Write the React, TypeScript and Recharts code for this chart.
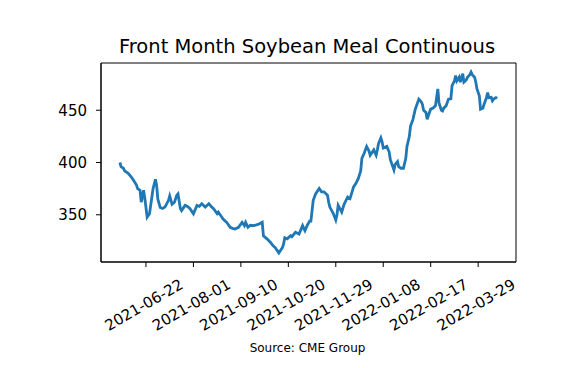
import React from "react";
import { LineChart, Line, XAxis, YAxis, ReferenceArea } from "recharts";

const dates = [
  "2021-05-31", "2021-06-01", "2021-06-03", "2021-06-04", "2021-06-07", "2021-06-09",
  "2021-06-11", "2021-06-14", "2021-06-15", "2021-06-17", "2021-06-18", "2021-06-20",
  "2021-06-21", "2021-06-23", "2021-06-25", "2021-06-28", "2021-06-30", "2021-07-01",
  "2021-07-02", "2021-07-04", "2021-07-06", "2021-07-08", "2021-07-11", "2021-07-12",
  "2021-07-14", "2021-07-16", "2021-07-18", "2021-07-19", "2021-07-21", "2021-07-22",
  "2021-07-25", "2021-07-27", "2021-07-29", "2021-08-01", "2021-08-04", "2021-08-06",
  "2021-08-08", "2021-08-11", "2021-08-14", "2021-08-16", "2021-08-18", "2021-08-21",
  "2021-08-22", "2021-08-25", "2021-08-26", "2021-08-29", "2021-09-01", "2021-09-03",
  "2021-09-05", "2021-09-08", "2021-09-11", "2021-09-13", "2021-09-14", "2021-09-16",
  "2021-09-18", "2021-09-21", "2021-09-25", "2021-09-28", "2021-09-29", "2021-10-02",
  "2021-10-05", "2021-10-07", "2021-10-09", "2021-10-12", "2021-10-15", "2021-10-16",
  "2021-10-17", "2021-10-19", "2021-10-22", "2021-10-23", "2021-10-26", "2021-10-29",
  "2021-11-01", "2021-11-02", "2021-11-03", "2021-11-05", "2021-11-07", "2021-11-08",
  "2021-11-10", "2021-11-12", "2021-11-15", "2021-11-17", "2021-11-19", "2021-11-22",
  "2021-11-23", "2021-11-24", "2021-11-27", "2021-11-29", "2021-11-30", "2021-12-01",
  "2021-12-04", "2021-12-06", "2021-12-09", "2021-12-11", "2021-12-14", "2021-12-16",
  "2021-12-18", "2021-12-20", "2021-12-21", "2021-12-23", "2021-12-25", "2021-12-27",
  "2021-12-28", "2021-12-31", "2022-01-02", "2022-01-03", "2022-01-04", "2022-01-06",
  "2022-01-07", "2022-01-08", "2022-01-11", "2022-01-13", "2022-01-14", "2022-01-17",
  "2022-01-18", "2022-01-20", "2022-01-21", "2022-01-23", "2022-01-25", "2022-01-27",
  "2022-01-28", "2022-01-30", "2022-01-31", "2022-02-02", "2022-02-04", "2022-02-07",
  "2022-02-09", "2022-02-10", "2022-02-11", "2022-02-13", "2022-02-14", "2022-02-16",
  "2022-02-17", "2022-02-19", "2022-02-21", "2022-02-23", "2022-02-24", "2022-02-26",
  "2022-02-27", "2022-02-28", "2022-03-02", "2022-03-04", "2022-03-06", "2022-03-07",
  "2022-03-09", "2022-03-10", "2022-03-11", "2022-03-13", "2022-03-14", "2022-03-16",
  "2022-03-17", "2022-03-19", "2022-03-20", "2022-03-22", "2022-03-23", "2022-03-24",
  "2022-03-26", "2022-03-27", "2022-03-28", "2022-03-30", "2022-03-31", "2022-04-02",
  "2022-04-03", "2022-04-05", "2022-04-06", "2022-04-07", "2022-04-09", "2022-04-10",
  "2022-04-11", "2022-04-13", "2022-04-14",
];

const prices = [
  400, 396, 394.5, 392, 389.7, 387,
  384, 378.4, 375, 373.5, 362, 373.5,
  366, 347.7, 351, 375, 384, 378,
  365, 357, 356, 357.4, 363.8, 368,
  360, 362, 368.7, 370, 356, 354,
  359, 358, 356, 351, 359, 358,
  360.6, 357.4, 360.6, 358, 355.8, 351,
  352.5, 347.7, 346, 342.8, 338, 337,
  336.4, 338, 342.8, 339.6, 342.8, 338,
  340, 339.6, 341, 342.8, 330, 327,
  323.5, 320.5, 318.6, 313.5, 318.6, 322,
  328, 327, 330, 329, 333.2, 331.6,
  339.6, 337, 334.8, 340, 344, 344,
  363.8, 370, 375.2, 372, 372, 368.7,
  362, 357.4, 351, 345, 350, 359,
  352.5, 360, 367, 365.5, 376.7, 380,
  384.8, 392, 404, 409, 415.4, 411,
  407, 412, 407, 412, 418, 423.6,
  420, 413.9, 415.4, 410, 402.6, 392.9,
  398, 400.9, 396, 394.5, 394.5, 404,
  415.4, 425, 434.8, 441, 451, 460.6,
  458, 455.8, 450, 447.8, 441.3, 448,
  451, 452, 454.2, 470.3, 457, 450,
  449.3, 452, 454.2, 460.6, 461, 473.5,
  478, 483.2, 478, 481.6, 476.8, 485,
  476.8, 479, 481.6, 484, 486.5, 484,
  481.6, 477, 470.3, 463.8, 451, 452,
  455.8, 462, 467, 462, 462.3, 459,
  460.6, 462, 461.3,
];

const tickDates = [
  "2021-06-22", "2021-08-01", "2021-09-10", "2021-10-20",
  "2021-11-29", "2022-01-08", "2022-02-17", "2022-03-29",
];
const yTicks = [350, 400, 450];

const title = "Front Month Soybean Meal Continuous";
const source = "Source: CME Group";

const toDay = (s: string) => Date.parse(s + "T00:00:00Z") / 86400000;
const fmtDay = (d: number) => new Date(Math.round(d) * 86400000).toISOString().slice(0, 10);

const data = dates.map((d, i) => ({ t: toDay(d), price: prices[i] }));

// matplotlib style 5% margins
const pad = (lo: number, hi: number): [number, number] => {
  const r = hi - lo;
  return [lo - r * 0.05, hi + r * 0.05];
};
const xDomain = pad(Math.min(...data.map((d) => d.t)), Math.max(...data.map((d) => d.t)));
const yDomain = pad(Math.min(...prices), Math.max(...prices));

const FONT = "'DejaVu Sans', sans-serif";

const XTick = (props: any) => {
  const { x, y, payload } = props;
  return (
    <g transform={`translate(${x - 2},${y + 36})`}>
      <text
        transform="rotate(-30)"
        textAnchor="middle"
        dominantBaseline="central"
        fontSize={15}
        fontFamily={FONT}
        fill="#000"
      >
        {fmtDay(payload.value)}
      </text>
    </g>
  );
};

export default function App() {
  return (
    <div style={{ position: "absolute", left: 0, top: 0, width: 563, height: 368, background: "#fff" }}>
      <LineChart width={563} height={368} data={data} margin={{ top: 63, right: 47, bottom: 26, left: 0 }}>
        <XAxis
          dataKey="t"
          type="number"
          domain={xDomain}
          allowDataOverflow
          ticks={tickDates.map(toDay)}
          tick={<XTick />}
          tickSize={5}
          tickMargin={2}
          height={80}
          stroke="#000"
          axisLine={{ stroke: "#000", strokeWidth: 1 }}
          tickLine={{ stroke: "#000" }}
        />
        <YAxis
          type="number"
          domain={yDomain}
          allowDataOverflow
          ticks={yTicks}
          width={101}
          tickSize={5}
          tickMargin={9}
          tick={{ fontSize: 15, fontFamily: FONT, fill: "#000" }}
          axisLine={{ stroke: "#000", strokeWidth: 1 }}
          tickLine={{ stroke: "#000" }}
        />
        {/* full box around the axes, like matplotlib spines */}
        <ReferenceArea
          x1={xDomain[0]}
          x2={xDomain[1]}
          y1={yDomain[0]}
          y2={yDomain[1]}
          fill="none"
          stroke="#000"
          strokeWidth={1}
          ifOverflow="visible"
        />
        <Line
          type="linear"
          dataKey="price"
          stroke="#1f77b4"
          strokeWidth={2.8}
          dot={false}
          isAnimationActive={false}
        />
      </LineChart>
      <svg width={563} height={368} style={{ position: "absolute", left: 0, top: 0, pointerEvents: "none" }}>
        <text x={307} y={52.5} textAnchor="middle" fontSize={19.5} fontFamily={FONT} fill="#000">
          {title}
        </text>
        <text x={307.5} y={351.5} textAnchor="middle" fontSize={12} fontFamily={FONT} fill="#000">
          {source}
        </text>
      </svg>
    </div>
  );
}
